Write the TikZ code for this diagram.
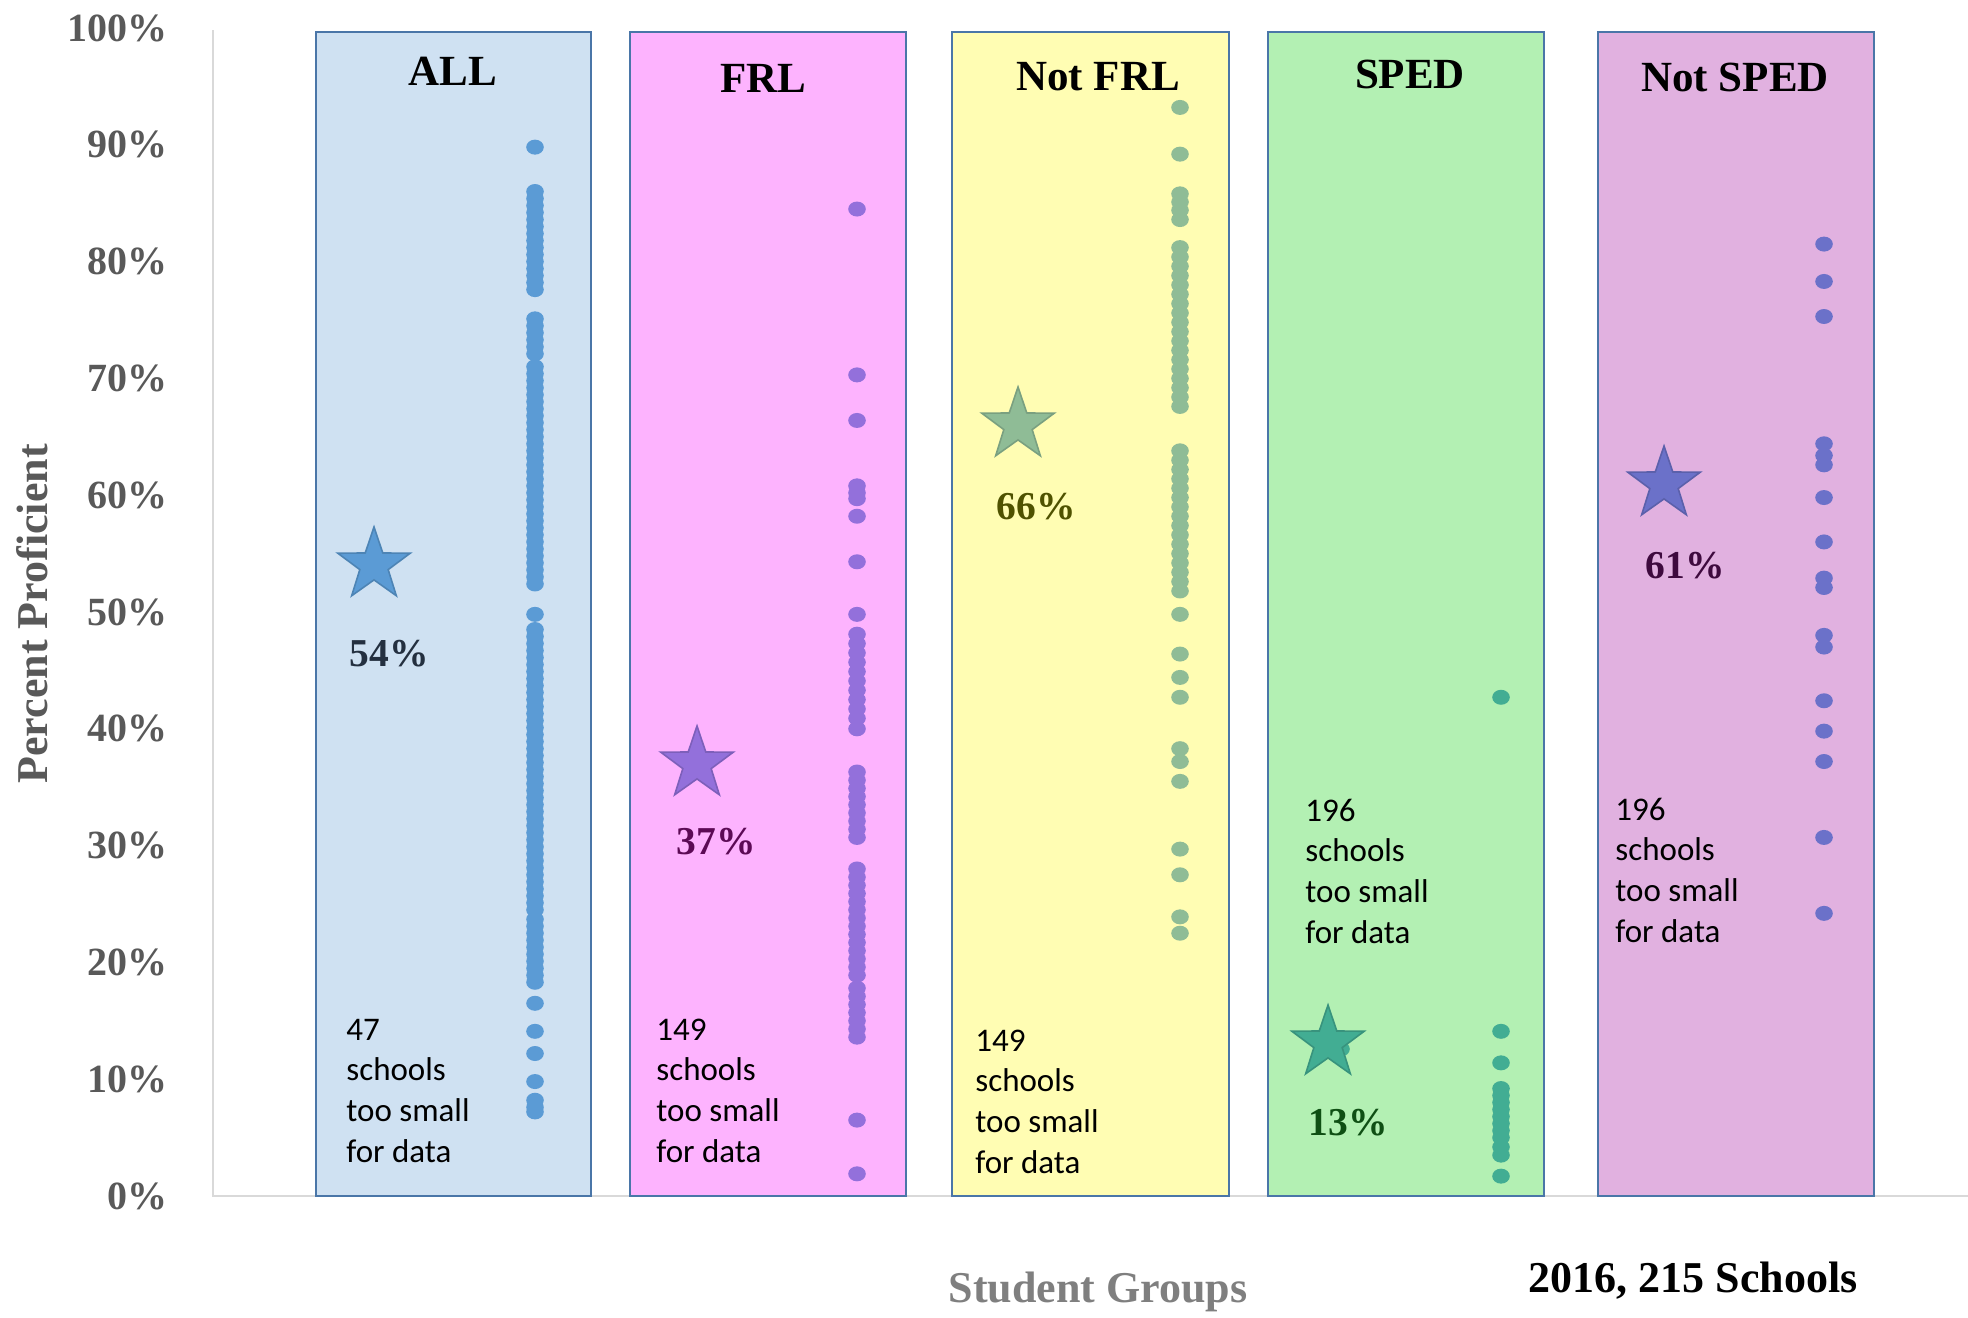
\documentclass[tikz,border=0pt]{standalone}
\usepackage{fontspec}
\setmainfont{Liberation Serif}
\newfontfamily\carlito{Carlito}
\usetikzlibrary{shapes.geometric}

\definecolor{allfill}{HTML}{CFE1F2}
\definecolor{frlfill}{HTML}{FDB3FE}
\definecolor{nfrlfill}{HTML}{FFFDB3}
\definecolor{spedfill}{HTML}{B3F0B3}
\definecolor{nspedfill}{HTML}{E1B1E0}
\definecolor{boxline}{HTML}{4A76A8}
\definecolor{alldot}{HTML}{5B9BD5}
\definecolor{frldot}{HTML}{9370DB}
\definecolor{nfrldot}{HTML}{8FBC96}
\definecolor{speddot}{HTML}{42AD93}
\definecolor{nspeddot}{HTML}{6B71C9}
\definecolor{ticktext}{HTML}{595959}
\definecolor{xtitle}{HTML}{7F7F7F}
\definecolor{axisline}{HTML}{D9D9D9}
\definecolor{lblall}{HTML}{243040}
\definecolor{lblfrl}{HTML}{5C0A55}
\definecolor{lblnfrl}{HTML}{4F5200}
\definecolor{lblsped}{HTML}{0F4F14}
\definecolor{lblnsped}{HTML}{3E0A3E}

\newcommand\dotrow[3]{\foreach \v in {#3}{\fill[#2] (#1,{1196-11.68*\v}) ellipse [x radius=8.8,y radius=7.5];}}

\begin{document}
\begin{tikzpicture}[x=0.5pt,y=-0.5pt,
  groupbox/.style={draw=boxline,line width=1.3pt},
  ticklbl/.style={anchor=east,inner sep=0,font=\fontsize{20}{24}\selectfont\bfseries,text=ticktext},
  grouptitle/.style={inner sep=0,font=\fontsize{21.5}{26}\selectfont\bfseries},
  pctlbl/.style={inner sep=0,font=\fontsize{19.75}{24}\selectfont\bfseries},
  smallnote/.style={anchor=base west,inner sep=0,font=\carlito\fontsize{16.5}{20.35}\selectfont},
  meanstar/.style={star,star points=5,star point ratio=2.55,minimum size=38pt,inner sep=0,line width=0.8pt},
  axistitle/.style={inner sep=0,font=\fontsize{22}{26}\selectfont\bfseries},
]
\useasboundingbox (0,0) rectangle (1968,1317);
\fill[white] (0,0) rectangle (1968,1317);

% axes
\draw[axisline,line width=1pt] (213,30) -- (213,1196) -- (1968,1196);

% tick labels
\foreach \k in {0,...,10}{
  \pgfmathtruncatemacro\pc{10*\k}
  \pgfmathsetmacro\yy{1196-116.8*\k}
  \node[ticklbl] (tick\k) at (168,\yy) {\pc\%};
}

% group boxes
\draw[groupbox,fill=allfill] (316,32) rectangle (591,1196);
\draw[groupbox,fill=frlfill] (630,32) rectangle (906,1196);
\draw[groupbox,fill=nfrlfill] (952,32) rectangle (1229,1196);
\draw[groupbox,fill=spedfill] (1268,32) rectangle (1544,1196);
\draw[groupbox,fill=nspedfill] (1598,32) rectangle (1874,1196);

% titles
\node[grouptitle] (tall) at (453,71) {ALL};
\node[grouptitle] (tfrl) at (763,78) {FRL};
\node[grouptitle] (tnfrl) at (1098,77) {Not FRL};
\node[grouptitle] (tsped) at (1410,74) {SPED};
\node[grouptitle] (tnsped) at (1735,77) {Not SPED};

% dots ALL
\dotrow{535}{alldot}{89.8}
\dotrow{535}{alldot}{86,85.4,...,77.1}
\dotrow{535}{alldot}{75.1,74.5,...,71.6}
\dotrow{535}{alldot}{71,70.4,...,51.9}
\dotrow{535}{alldot}{49.8}
\dotrow{535}{alldot}{48.5,47.9,...,24.2}
\dotrow{535}{alldot}{23.7,23.1,...,18.1}
\dotrow{535}{alldot}{16.5,14.1,12.2,9.8,8.2,7.6,7.2}

% dots FRL
\dotrow{857}{frldot}{84.5,70.3,66.4,60.8,60.2,59.7,58.2,54.3,49.8}
\dotrow{857}{frldot}{48.1,47.3,...,40.5}
\dotrow{857}{frldot}{40}
\dotrow{857}{frldot}{36.3,35.6,...,30.1}
\dotrow{857}{frldot}{28,27.3,...,18.8}
\dotrow{857}{frldot}{17.8,17.1,...,13.1}
\dotrow{857}{frldot}{6.5,1.9}

% dots Not FRL
\dotrow{1180}{nfrldot}{93.2,89.2,85.8,85.1,84.4,83.6}
\dotrow{1180}{nfrldot}{81.2,80.4,...,67.2}
\dotrow{1180}{nfrldot}{63.8,63,...,51.2}
\dotrow{1180}{nfrldot}{49.8,46.4,44.4,42.7,38.3,37.2,35.5,29.7,27.5,23.9,22.5}

% dots SPED
\dotrow{1501}{speddot}{42.7,14.1,11.4,9.2,8.6,8,7.4,6.8,6.2,5.6,5,4.2,3.5,1.7}
\fill[speddot] (1341,1049) ellipse [x radius=8.8,y radius=7.5];

% dots Not SPED
\dotrow{1824}{nspeddot}{81.5,78.3,75.3,64.4,63.4,62.6,59.8,56,52.9,52.1,48,47,42.4,39.8,37.2,30.7,24.2}

% stars (group averages)
\node[meanstar,fill=alldot,draw=alldot!85!black] (sall) at (374,565) {};
\node[meanstar,fill=frldot,draw=frldot!85!black] (sfrl) at (697,764) {};
\node[meanstar,fill=nfrldot,draw=nfrldot!85!black] (snfrl) at (1018,425) {};
\node[meanstar,fill=speddot,draw=speddot!85!black] (ssped) at (1328,1043) {};
\node[meanstar,fill=nspeddot,draw=nspeddot!85!black] (snsped) at (1664,484) {};

% percentage labels
\node[pctlbl,text=lblall] (pall) at (389,654) {54\%};
\node[pctlbl,text=lblfrl] (pfrl) at (716,842) {37\%};
\node[pctlbl,text=lblnfrl] (pnfrl) at (1036,507) {66\%};
\node[pctlbl,text=lblsped] (psped) at (1348,1123) {13\%};
\node[pctlbl,text=lblnsped] (pnsped) at (1685,566) {61\%};

% notes
\node[smallnote] (nall) at (346,1040) {\begin{tabular}[t]{@{}l@{}}47\\schools\\too small\\for data\end{tabular}};
\node[smallnote] (nfrl) at (656,1040) {\begin{tabular}[t]{@{}l@{}}149\\schools\\too small\\for data\end{tabular}};
\node[smallnote] (nnfrl) at (975,1051) {\begin{tabular}[t]{@{}l@{}}149\\schools\\too small\\for data\end{tabular}};
\node[smallnote] (nsped) at (1305,821) {\begin{tabular}[t]{@{}l@{}}196\\schools\\too small\\for data\end{tabular}};
\node[smallnote] (nnsped) at (1615,820) {\begin{tabular}[t]{@{}l@{}}196\\schools\\too small\\for data\end{tabular}};

% axis titles
\node[axistitle,text=ticktext,rotate=90] (ytitle) at (32,614) {Percent Proficient};
\node[axistitle,text=xtitle,anchor=base] (xtitlenode) at (1098,1302) {Student Groups};
\node[axistitle,anchor=base] (yearnote) at (1693,1292) {2016, 215 Schools};
\end{tikzpicture}
\end{document}
